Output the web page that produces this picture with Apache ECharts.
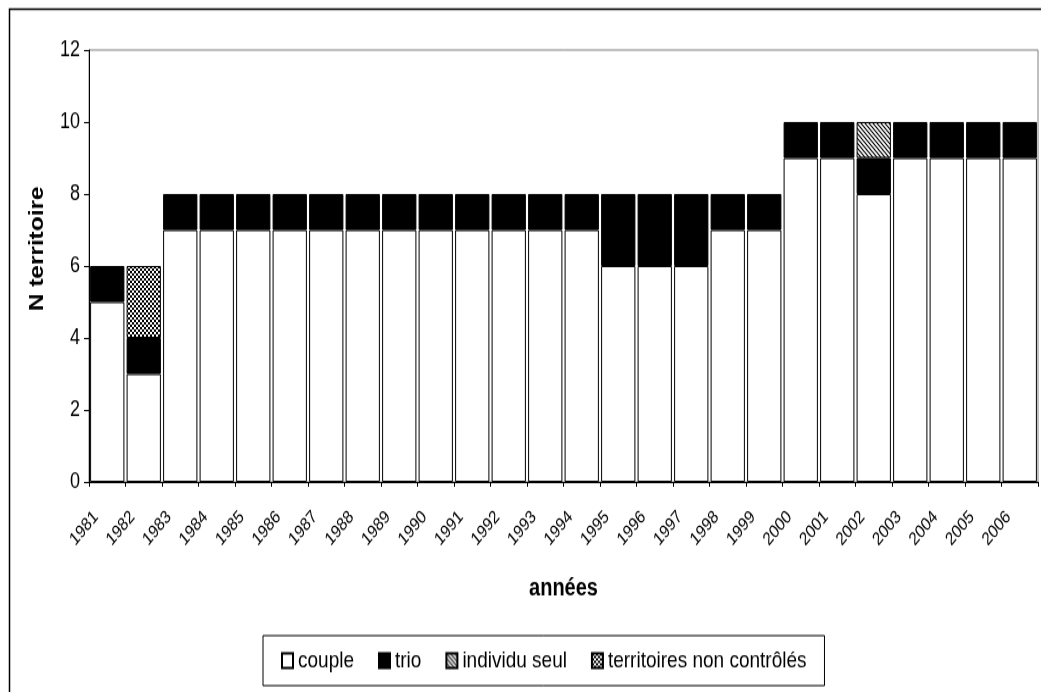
<!DOCTYPE html>
<html>
<head>
<meta charset="utf-8">
<script src="https://cdn.jsdelivr.net/npm/echarts@6/dist/echarts.min.js"></script>
<style>
html,body{margin:0;padding:0;background:#fff;overflow:hidden;}
#wrap{width:1041px;height:692px;overflow:hidden;position:relative;background:#fff;}
#chart{width:1041px;height:568px;transform:scaleY(1.22);transform-origin:0 0;}
</style>
</head>
<body>
<div id="wrap"><div id="chart"></div></div>
<script>
var years = ['1981','1982','1983','1984','1985','1986','1987','1988','1989','1990','1991','1992','1993','1994','1995','1996','1997','1998','1999','2000','2001','2002','2003','2004','2005','2006'];
var couple      = [5,3,7,7,7,7,7,7,7,7,7,7,7,7,6,6,6,7,7,9,9,8,9,9,9,9];
var trio        = [1,1,1,1,1,1,1,1,1,1,1,1,1,1,2,2,2,1,1,1,1,1,1,1,1,1];
var individuSeul= [0,0,0,0,0,0,0,0,0,0,0,0,0,0,0,0,0,0,0,0,0,1,0,0,0,0];
var nonControles= [0,2,0,0,0,0,0,0,0,0,0,0,0,0,0,0,0,0,0,0,0,0,0,0,0,0];
var yTicks = [0,2,4,6,8,10,12];
var seriesNames = ['couple','trio','individu seul','territoires non contrôlés'];

var FONT = "'Liberation Sans',Arial,sans-serif";

function stripePattern(){
  var c = document.createElement('canvas'); c.width = 4; c.height = 4;
  var g = c.getContext('2d');
  g.fillStyle = '#fff'; g.fillRect(0,0,4,4);
  g.strokeStyle = '#000'; g.lineWidth = 1.2;
  g.beginPath();
  g.moveTo(-1,-1); g.lineTo(5,5);
  g.moveTo(-1,3); g.lineTo(1,5);
  g.moveTo(3,-1); g.lineTo(5,1);
  g.stroke();
  return c;
}
function checkerPattern(){
  var c = document.createElement('canvas'); c.width = 4; c.height = 4;
  var g = c.getContext('2d');
  g.fillStyle = '#fff'; g.fillRect(0,0,4,4);
  g.fillStyle = '#000'; g.fillRect(0,0,2,2); g.fillRect(2,2,2,2);
  return c;
}

function nz(arr){ return arr.map(function(v){ return v === 0 ? null : v; }); }

var fills = ['#ffffff', '#000000',
  {image: stripePattern(), repeat: 'repeat'},
  {image: checkerPattern(), repeat: 'repeat'}];
var dataSets = [couple, trio, individuSeul, nonControles];

var series = seriesNames.map(function(name, i){
  return {
    name: name,
    type: 'bar',
    stack: 'total',
    barCategoryGap: '6%',
    data: nz(dataSets[i]),
    itemStyle: {color: fills[i], borderColor: '#000', borderWidth: 1},
    emphasis: {disabled: true},
    animation: false
  };
});

var chart = echarts.init(document.getElementById('chart'), null, {renderer: 'canvas'});
chart.setOption({
  animation: false,
  backgroundColor: '#fff',
  grid: {left: 89, top: 41, right: 3, bottom: 173, show: true, borderColor: '#808080', borderWidth: 1, backgroundColor: 'transparent'},
  xAxis: {
    type: 'category',
    data: years,
    boundaryGap: true,
    name: 'années',
    nameLocation: 'middle',
    nameGap: 77,
    nameTextStyle: {fontFamily: FONT, fontWeight: 'bold', fontSize: 20, color: '#000'},
    axisLine: {lineStyle: {color: '#000', width: 1}},
    axisTick: {show: true, interval: 0, length: 4, lineStyle: {color: '#000'}},
    axisLabel: {interval: 0, rotate: 45, margin: 15, padding: [0, 16, 0, 0], fontFamily: FONT, fontSize: 15, color: '#000'},
    splitLine: {show: false}
  },
  yAxis: {
    type: 'value',
    min: 0, max: 12, interval: 2,
    name: 'N territoire',
    nameLocation: 'middle',
    nameGap: 42,
    nameTextStyle: {fontFamily: FONT, fontWeight: 'bold', fontSize: 20, color: '#000', padding: [0, 0, 0, 28]},
    axisLine: {show: true, lineStyle: {color: '#000', width: 1}},
    axisTick: {show: true, length: 5, lineStyle: {color: '#000'}},
    axisLabel: {margin: 9, fontFamily: FONT, fontSize: 18, color: '#000',
      formatter: function(v){ return yTicks.indexOf(v) >= 0 ? String(v) : ''; }},
    splitLine: {show: false}
  },
  legend: {
    data: seriesNames,
    left: 263, top: 521,
    orient: 'horizontal',
    borderColor: '#000', borderWidth: 1,
    padding: [11, 18, 11, 18],
    itemGap: 24,
    itemWidth: 11, itemHeight: 12,
    icon: 'rect',
    textStyle: {fontFamily: FONT, fontSize: 19, color: '#000'},
    selectedMode: false
  },
  graphic: [{
    type: 'rect', silent: true, z: 100,
    shape: {x: 9.5, y: 7.4, width: 1200, height: 800},
    style: {fill: 'none', stroke: '#000', lineWidth: 1.5}
  }],
  series: series
});
</script>
</body>
</html>
